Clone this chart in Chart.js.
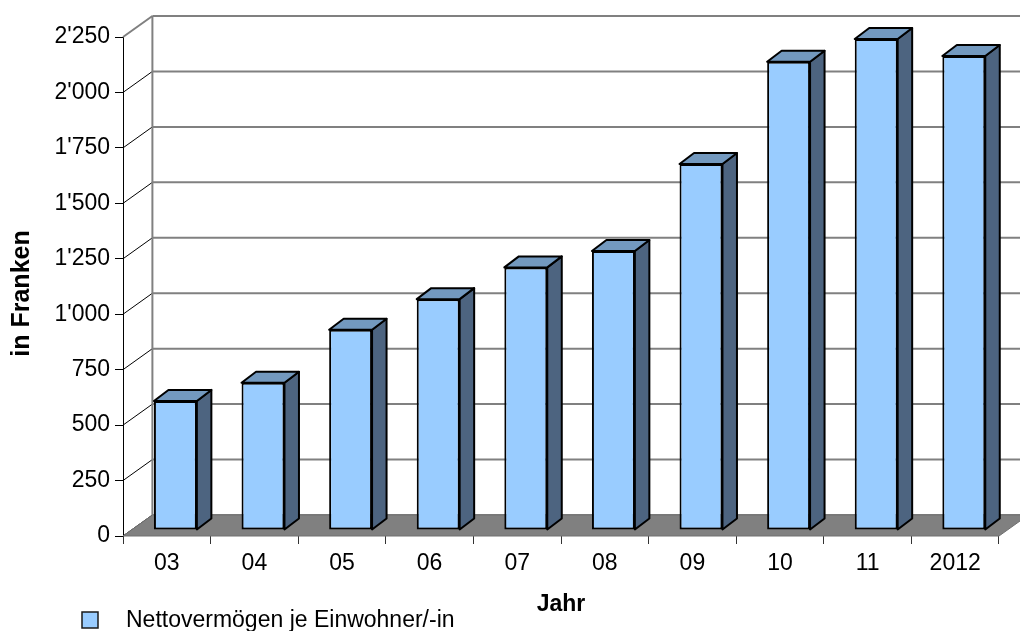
<!DOCTYPE html>
<html>
<head>
<meta charset="utf-8">
<script src="https://cdn.jsdelivr.net/npm/chart.js@4/dist/chart.umd.min.js"></script>
<style>
  html, body { margin: 0; padding: 0; background: #fff; }
  #wrap { width: 1020px; height: 631px; position: relative; }
</style>
</head>
<body>
<div id="wrap"><canvas id="chart"></canvas></div>
<script>
// ===== Data =====
const years = ['03', '04', '05', '06', '07', '08', '09', '10', '11', '2012'];
const nettovermoegen = [582, 664, 903, 1041, 1184, 1258, 1650, 2111, 2214, 2137];
const seriesLabel = 'Nettovermögen je Einwohner/-in';
const yTitle = 'in Franken';
const xTitle = 'Jahr';
const yMax = 2250;
const yStep = 250;

// ===== 3D look =====
const WALL = { dx: 29.4, dy: -21 };       // depth of back wall / floor
const BAR_SHIFT = { dx: 8.6, dy: -6 };    // bars sit a bit behind the front plane
const BAR_DEPTH = { dx: 14.5, dy: -11 };  // depth of each bar
const FRONT = '#99ccff', TOP = '#7399bf', SIDE = '#4d6480';
const FAMILY = "'Liberation Sans', Arial, sans-serif";

Chart.defaults.font.family = FAMILY;
Chart.defaults.color = '#000';

function swissFormat(v) {
  if (v < 1000) return String(v);
  return Math.floor(v / 1000) + "'" + String(v % 1000).padStart(3, '0');
}

function poly(ctx, pts, fill) {
  ctx.beginPath();
  ctx.moveTo(pts[0][0], pts[0][1]);
  for (let i = 1; i < pts.length; i++) ctx.lineTo(pts[i][0], pts[i][1]);
  ctx.closePath();
  ctx.fillStyle = fill;
  ctx.fill();
  ctx.stroke();
}

const box3d = {
  id: 'box3d',
  beforeDatasetsDraw(chart) {
    const { ctx, chartArea: a, scales: { y } } = chart;
    ctx.save();
    // back wall grid lines + left wall diagonals
    y.ticks.forEach(t => {
      const py = y.getPixelForValue(t.value);
      const isTop = t.value === yMax;
      ctx.beginPath();
      ctx.moveTo(a.left, py);
      ctx.lineTo(a.left + WALL.dx, py + WALL.dy);
      ctx.strokeStyle = isTop ? '#808080' : '#000';
      ctx.lineWidth = isTop ? 2 : 1;
      ctx.stroke();
      ctx.beginPath();
      ctx.moveTo(a.left + WALL.dx, py + WALL.dy);
      ctx.lineTo(a.right + WALL.dx, py + WALL.dy);
      ctx.strokeStyle = '#808080';
      ctx.lineWidth = 2;
      ctx.stroke();
    });
    ctx.beginPath();
    ctx.moveTo(a.left + WALL.dx, a.top + WALL.dy);
    ctx.lineTo(a.left + WALL.dx, a.bottom + WALL.dy);
    ctx.strokeStyle = '#808080';
    ctx.lineWidth = 2;
    ctx.stroke();
    // floor
    ctx.strokeStyle = '#707070';
    ctx.lineWidth = 1;
    poly(ctx, [[a.left, a.bottom], [a.right, a.bottom],
      [a.right + WALL.dx, a.bottom + WALL.dy], [a.left + WALL.dx, a.bottom + WALL.dy]], '#808080');
    ctx.restore();
    // bars are drawn slightly behind the front plane
    ctx.save();
    ctx.translate(BAR_SHIFT.dx, BAR_SHIFT.dy);
  },
  afterDatasetsDraw(chart) {
    const { ctx } = chart;
    ctx.strokeStyle = '#000';
    ctx.lineWidth = 2;
    ctx.lineJoin = 'round';
    chart.getDatasetMeta(0).data.forEach(bar => {
      const { x, y, base, width } = bar.getProps(['x', 'y', 'base', 'width'], true);
      const l = x - width / 2, r = x + width / 2;
      const dx = BAR_DEPTH.dx, dy = BAR_DEPTH.dy;
      poly(ctx, [[r, y], [r + dx, y + dy], [r + dx, base + dy], [r, base]], SIDE);
      poly(ctx, [[l, y], [l + dx, y + dy], [r + dx, y + dy], [r, y]], TOP);
    });
    ctx.restore();
  },
  afterDraw(chart) {
    const { ctx } = chart;
    const ds = chart.data.datasets[0];
    ctx.save();
    // y axis title
    ctx.translate(22, 293.5);
    ctx.rotate(-Math.PI / 2);
    ctx.font = 'bold 25px ' + FAMILY;
    ctx.fillStyle = '#000';
    ctx.textAlign = 'center';
    ctx.textBaseline = 'middle';
    ctx.fillText(yTitle, 0, 0);
    ctx.restore();
    // legend
    ctx.save();
    ctx.fillStyle = ds.backgroundColor;
    ctx.fillRect(82, 612, 16, 16);
    ctx.strokeStyle = '#1a1a1a';
    ctx.lineWidth = 1.5;
    ctx.strokeRect(82, 612, 16, 16);
    ctx.fillStyle = '#000';
    ctx.font = '23px ' + FAMILY;
    ctx.textBaseline = 'alphabetic';
    ctx.fillText(ds.label, 126, 627);
    ctx.restore();
  }
};

new Chart(document.getElementById('chart'), {
  type: 'bar',
  data: {
    labels: years,
    datasets: [{
      label: seriesLabel,
      data: nettovermoegen,
      backgroundColor: FRONT,
      borderColor: '#000',
      borderWidth: 2,
      borderSkipped: false,
      barPercentage: 0.49,
      categoryPercentage: 1,
      clip: false
    }]
  },
  options: {
    responsive: true,
    maintainAspectRatio: false,
    animation: false,
    layout: { padding: { top: 37, right: 21, left: 0, bottom: 0 } },
    plugins: { legend: { display: false }, tooltip: { enabled: false } },
    scales: {
      x: {
        grid: { drawOnChartArea: false, drawTicks: true, tickLength: 8, color: '#333' },
        border: { display: false },
        ticks: { font: { size: 23 }, padding: 6, maxRotation: 0 },
        title: { display: true, text: xTitle, font: { size: 23, weight: 'bold' }, padding: { bottom: 13 } },
        afterFit: s => { s.height = 95; }
      },
      y: {
        min: 0,
        max: yMax,
        grid: { drawOnChartArea: false, drawTicks: true, tickLength: 8, color: '#000' },
        border: { display: true, color: '#000', width: 1 },
        ticks: { stepSize: yStep, font: { size: 23 }, padding: 5, callback: v => swissFormat(v) },
        afterFit: s => { s.width = 123; }
      }
    }
  },
  plugins: [box3d]
});
</script>
</body>
</html>
